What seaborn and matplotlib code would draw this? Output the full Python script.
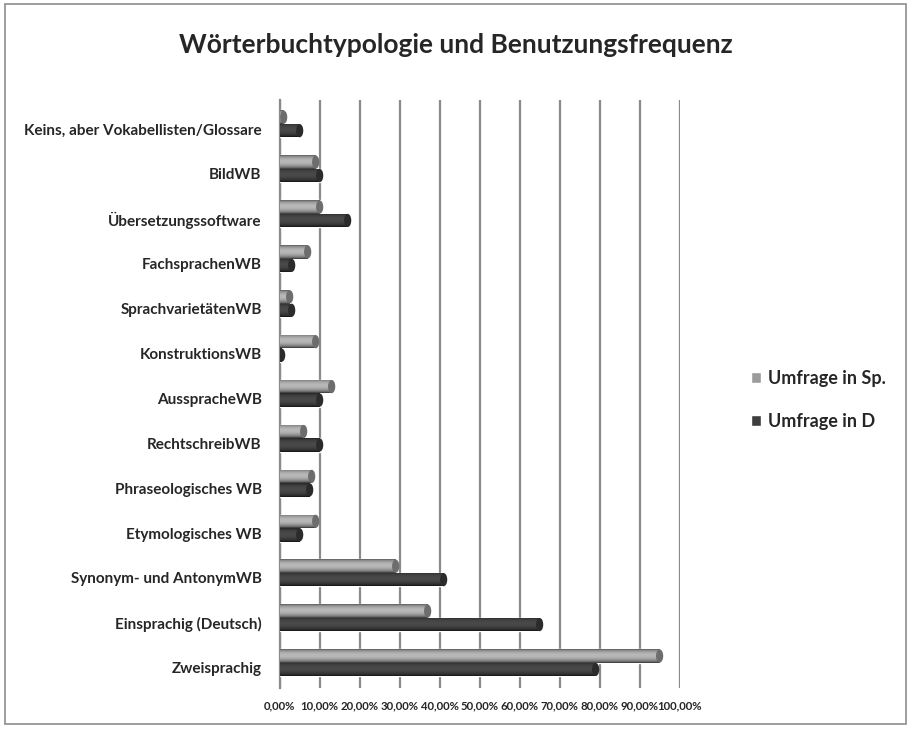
import numpy as np
import pandas as pd
import seaborn as sns
import matplotlib.pyplot as plt
import matplotlib.transforms as mtransforms
from matplotlib.patches import Ellipse, Rectangle
from matplotlib.ticker import FuncFormatter

categories = ["Keins, aber Vokabellisten/Glossare", "BildWB", "Übersetzungssoftware",
              "FachsprachenWB", "SprachvarietätenWB", "KonstruktionsWB", "AusspracheWB",
              "RechtschreibWB", "Phraseologisches WB", "Etymologisches WB",
              "Synonym- und AntonymWB", "Einsprachig (Deutsch)", "Zweisprachig"]
umfrage_sp = [0.01, 0.09, 0.10, 0.07, 0.025, 0.09, 0.13, 0.06, 0.08, 0.09, 0.29, 0.37, 0.95]
umfrage_d = [0.05, 0.10, 0.17, 0.03, 0.03, 0.005, 0.10, 0.10, 0.075, 0.05, 0.41, 0.65, 0.79]
series = ["Umfrage in Sp.", "Umfrage in D"]
colors = ["#9c9c9c", "#3e3e3e"]

df = pd.DataFrame({"Kategorie": categories * 2,
                   "Anteil": umfrage_sp + umfrage_d,
                   "Umfrage": [series[0]] * len(categories) + [series[1]] * len(categories)})

sns.set_theme(style="white")
plt.rcParams["font.family"] = ["Lato", "DejaVu Sans"]
plt.rcParams["font.weight"] = "bold"

fig = plt.figure(figsize=(9.11, 7.31), dpi=100)
fig.patches.append(Rectangle((0.006, 0.01), 0.988, 0.985, transform=fig.transFigure,
                             fill=False, edgecolor="#8c8c8c", lw=1.2))
ax = fig.add_axes([0.307, 0.059, 0.439, 0.804])

sns.barplot(data=df, y="Kategorie", x="Anteil", hue="Umfrage", palette=colors,
            width=0.6, ax=ax, legend=True, zorder=3)

# cylinder shading
t = np.linspace(0, 1, 40)
shade = 0.55 + 0.75 * np.sin(np.pi * t) ** 0.6 - 0.25 * t
for p in list(ax.patches):
    w = p.get_width()
    if w <= 0 or p.get_height() > 1:
        continue
    x0, y0, h = p.get_x(), p.get_y(), p.get_height()
    base = np.array(p.get_facecolor()[:3])
    img = np.clip(base[None, :] * shade[:, None], 0, 1)[:, None, :]
    im = ax.imshow(img, extent=(x0, x0 + w, y0, y0 + h), origin="lower",
                   aspect="auto", zorder=3.1, interpolation="bilinear")
    im.set_clip_path(p)
    ax.add_patch(Ellipse((x0 + w, y0 + h / 2), 0.018, h * 0.98,
                         facecolor=base * 0.7, edgecolor="none", zorder=3.2))

ax.set_xlim(0, 1.0)
ax.set_ylim(12.56, -0.53)
ax.set_xticks(np.arange(0, 1.01, 0.1))
ax.xaxis.set_major_formatter(FuncFormatter(lambda v, _: f"{v * 100:.2f}%".replace(".", ",")))
ax.grid(axis="x", color="#8a8a8a", lw=1.6, zorder=0)
ax.grid(axis="y", visible=False)
for s in ["top", "right", "bottom"]:
    ax.spines[s].set_visible(False)
ax.spines["left"].set_color("#8a8a8a")
ax.spines["left"].set_linewidth(1.6)
ax.tick_params(axis="x", labelsize=8.2, length=0, pad=9)
ax.tick_params(axis="y", labelsize=11, length=0, pad=13)
shift = mtransforms.ScaledTranslation(0, -5 / 100, fig.dpi_scale_trans)
for lab in ax.get_yticklabels():
    lab.set_fontweight("bold")
    lab.set_transform(lab.get_transform() + shift)
for lab in ax.get_xticklabels():
    lab.set_fontweight("bold")
ax.set_xlabel("")
ax.set_ylabel("")

leg = ax.legend(loc="center left", bbox_to_anchor=(1.137, 0.49), frameon=False,
                fontsize=13, handlelength=0.55, handleheight=0.55, handletextpad=0.4,
                labelspacing=1.4)
for txt in leg.get_texts():
    txt.set_fontweight("bold")

fig.text(0.5, 0.938, "Wörterbuchtypologie und Benutzungsfrequenz", ha="center",
         va="center", fontsize=19, fontweight="bold")

fig.savefig("out.png", dpi=100)
